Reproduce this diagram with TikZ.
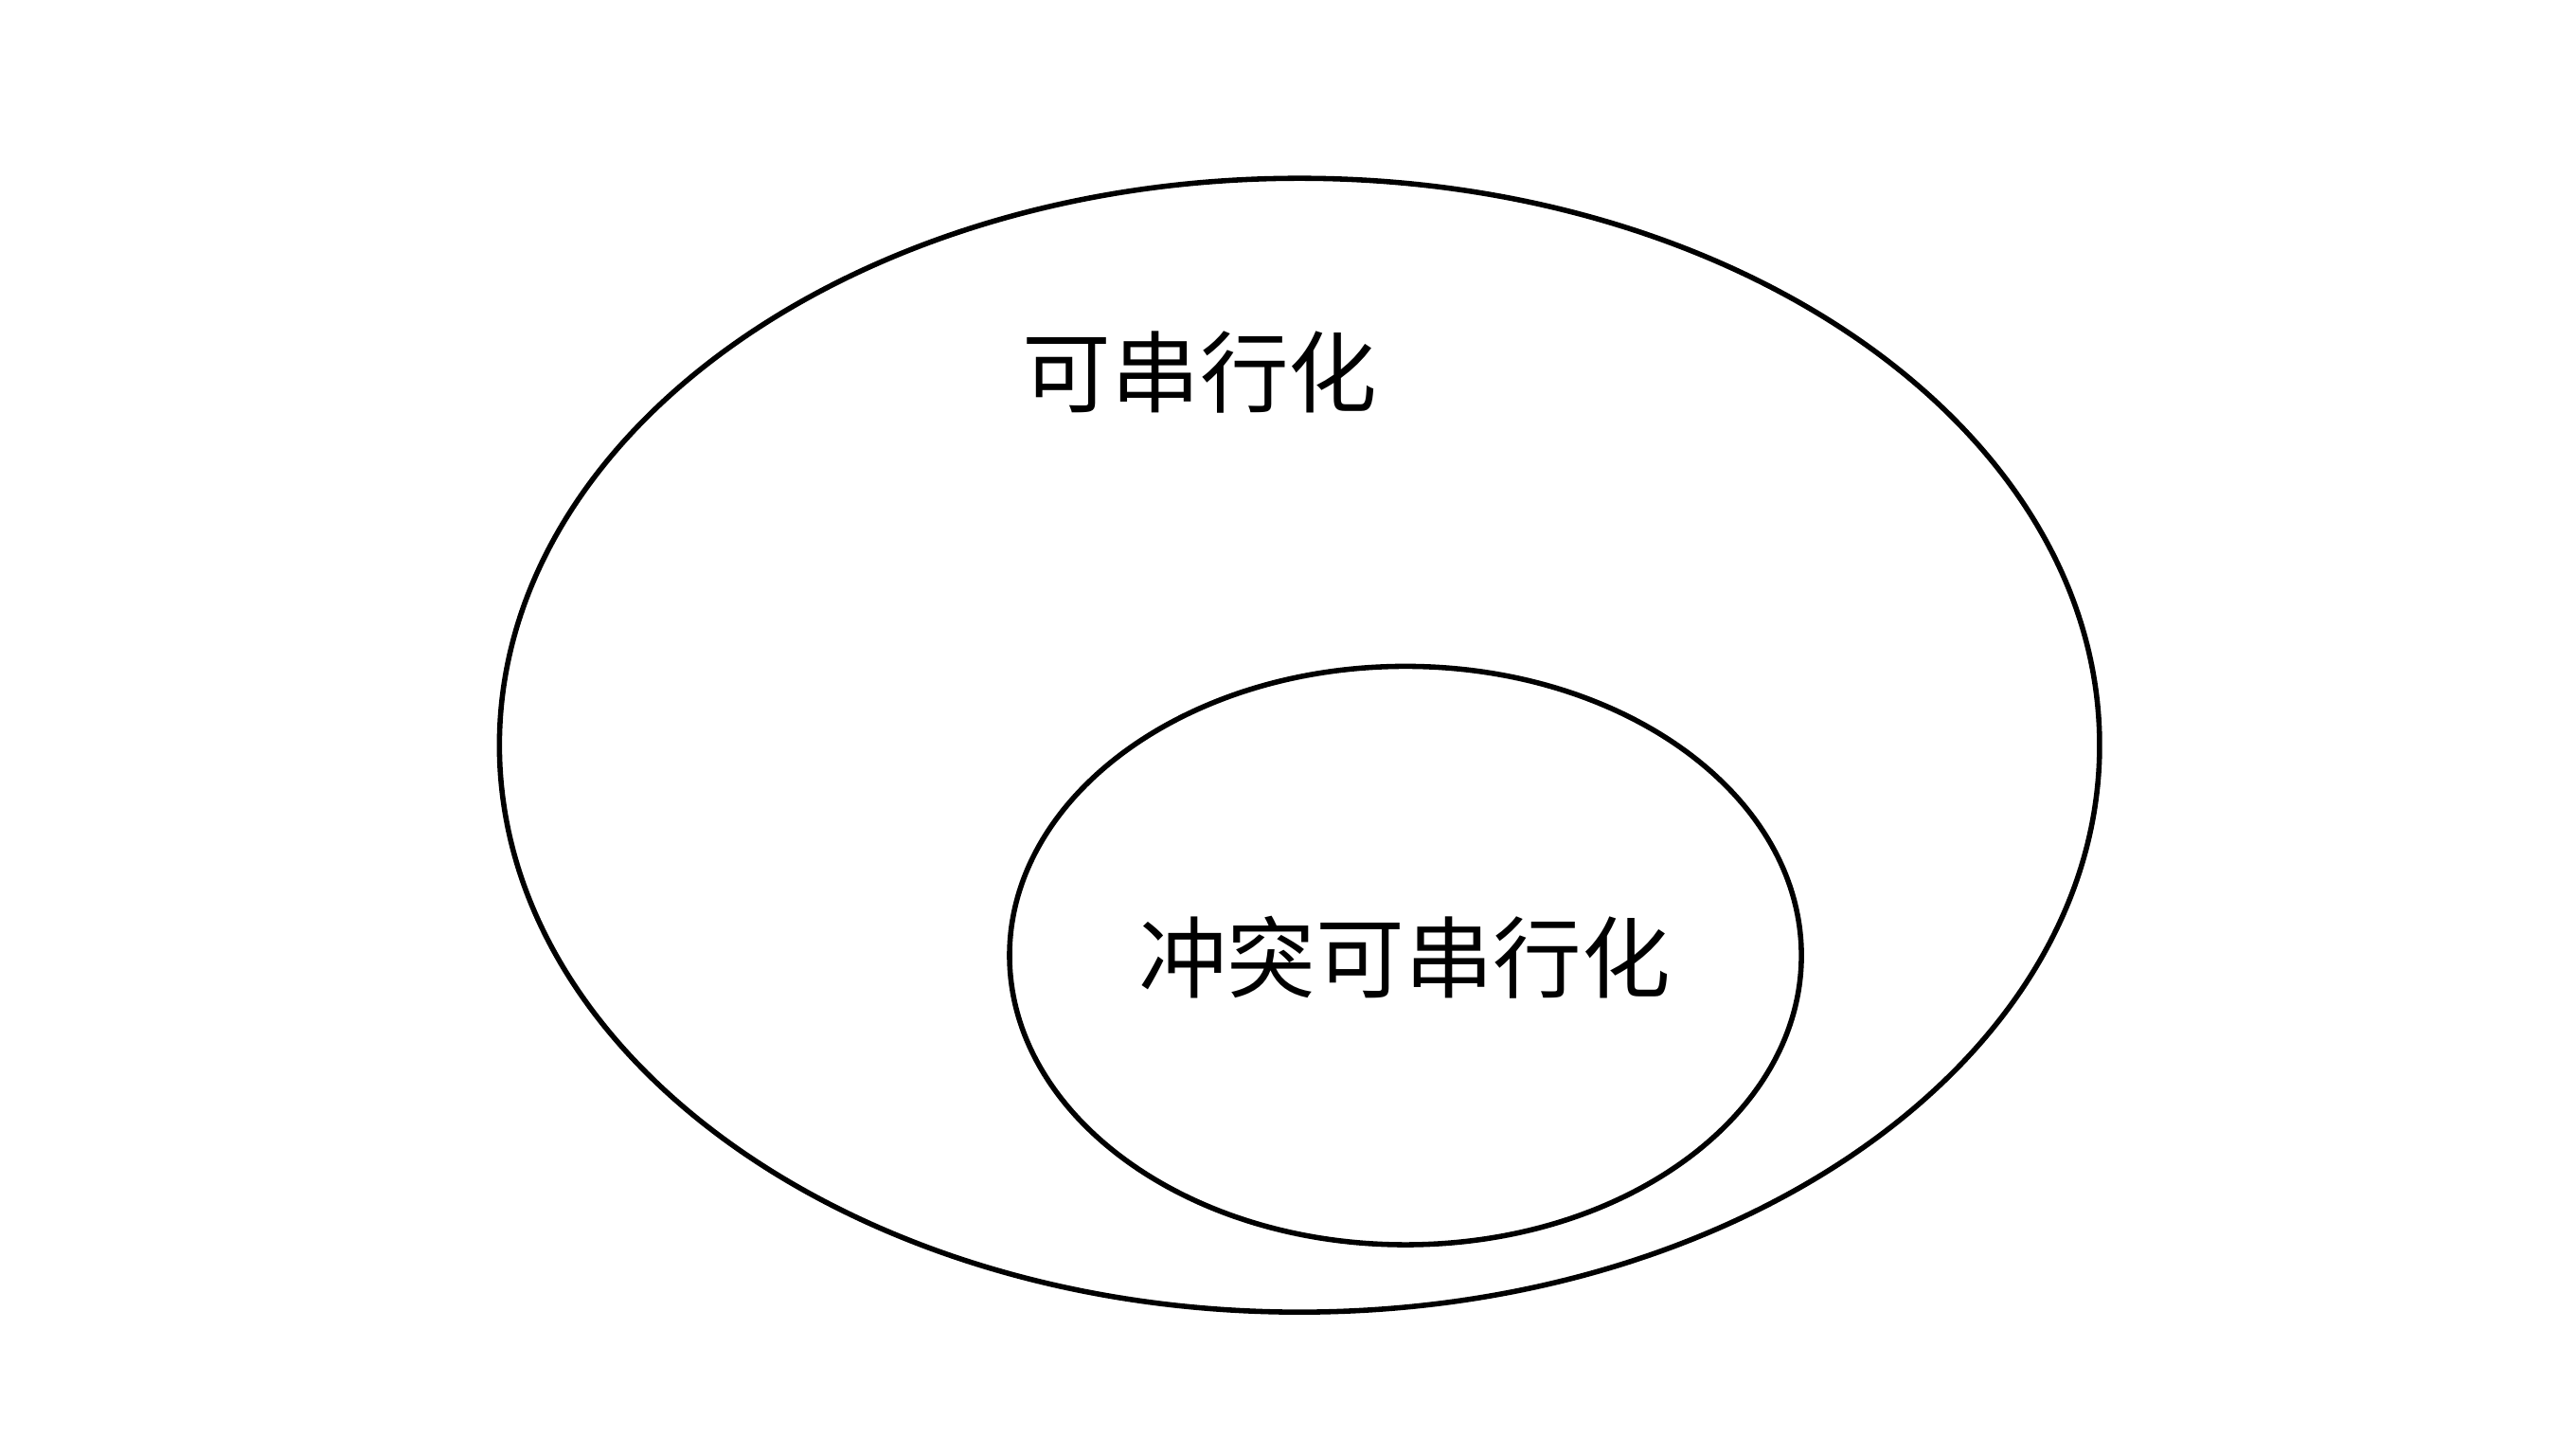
\documentclass[tikz,border=0pt]{standalone}
\usepackage{fontspec}
\newfontfamily\cjk{Noto Sans CJK SC}
\begin{document}
\begin{tikzpicture}[x=1pt,y=-1pt,
  ell/.style={draw=black,line width=3.2pt},
  lab/.style={font=\cjk\fontsize{54pt}{60pt}\selectfont,inner sep=0pt}]
\useasboundingbox[fill=white] (0,0) rectangle (1568,874.5);
\draw[ell] (791,453.5) ellipse [x radius=487,y radius=345];
\draw[ell] (855.5,581.5) ellipse [x radius=241,y radius=176];
\node[lab] (outer) at (730.5,226.5) {可串行化};
\node[lab] (inner) at (855,582.5) {冲突可串行化};
\end{tikzpicture}
\end{document}
